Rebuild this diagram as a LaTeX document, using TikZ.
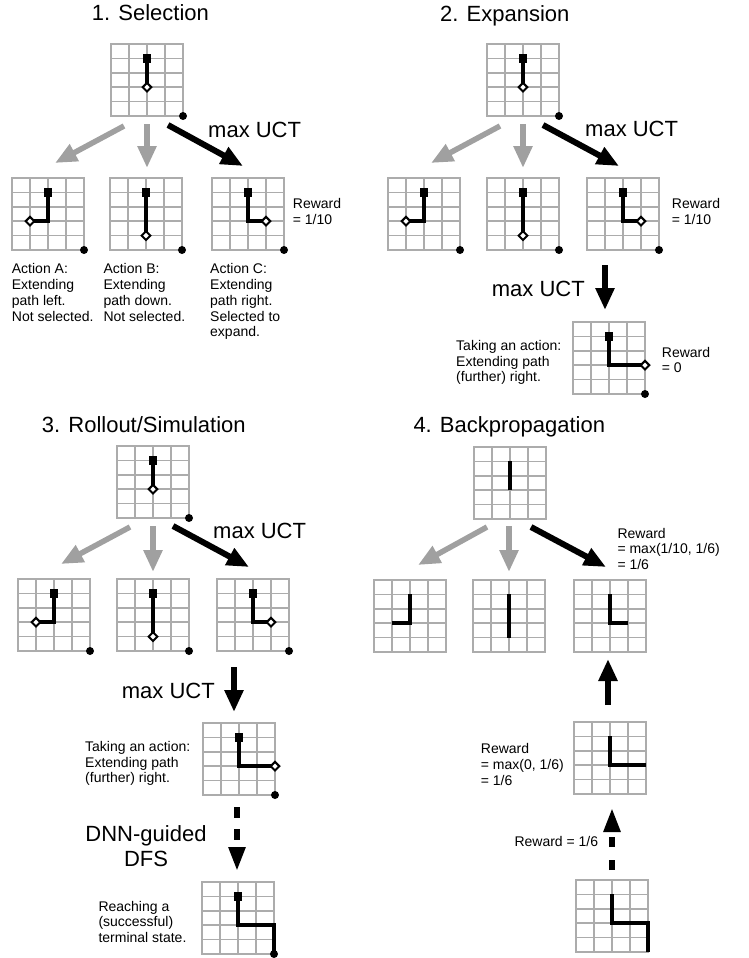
\documentclass[tikz,border=0pt]{standalone}
\usepackage{fontspec}
\setmainfont{Liberation Sans}
\usetikzlibrary{arrows.meta,shapes.geometric}
\definecolor{gridgray}{RGB}{172,172,172}
\definecolor{arrowgray}{RGB}{160,160,160}
\newcommand\smallf{\fontsize{14}{15.8}\selectfont}
\newcommand\bigf{\fontsize{22}{24.3}\selectfont}
\tikzset{
  gridline/.style={draw=gridgray, line width=1.5pt},
  gridbox/.style={draw=gridgray, line width=1.5pt, rectangle, minimum width=72pt, minimum height=72pt, inner sep=0pt},
  pathline/.style={line width=4pt, line join=miter, line cap=butt},
  startsq/.style={rectangle, fill=black, minimum size=8.5pt, inner sep=0pt},
  goaldot/.style={circle, fill=black, minimum size=8pt, inner sep=0pt},
  diam/.style={diamond, draw=black, fill=white, line width=2pt, minimum width=9.5pt, minimum height=9.5pt, inner sep=0pt},
  graya/.style={draw=arrowgray, line width=5.5pt, -{Triangle[length=22pt,width=18pt]}},
  blacka/.style={draw=black, line width=6pt, -{Triangle[length=22pt,width=18pt]}},
  dasha/.style={draw=black, line width=5.5pt, dash pattern=on 11pt off 11pt, -{Triangle[length=24pt,width=16pt]}},
  lbl/.style={anchor=north west, inner sep=0pt, align=left, font=\smallf},
  biglbl/.style={anchor=north west, inner sep=0pt, align=left, font=\bigf},
}
% grid: name, x, y (top-left corner)
\newcommand\mcgrid[3]{%
  \begin{scope}[shift={(#2,#3)}, x=18pt, y=-14.4pt]
    \foreach \c in {1,2,3} \draw[gridline] (\c,0) -- (\c,5);
    \foreach \r in {1,...,4} \draw[gridline] (0,\r) -- (4,\r);
    \node[gridbox] (#1) at (2,2.5) {};
  \end{scope}}
% path: x, y, path
\newcommand\mcpath[3]{%
  \begin{scope}[shift={(#1,#2)}, x=18pt, y=-14.4pt]
    \draw[pathline] #3;
  \end{scope}}
% start square and goal dot: name, x, y
\newcommand\mcends[3]{%
  \begin{scope}[shift={(#2,#3)}, x=18pt, y=-14.4pt]
    \node[startsq] (#1s) at (2,1) {};
    \node[goaldot] (#1g) at (4,5) {};
  \end{scope}}
% diamond: name, x, y, position
\newcommand\mcdiam[4]{%
  \begin{scope}[shift={(#2,#3)}, x=18pt, y=-14.4pt]
    \node[diam] (#1d) at (#4) {};
  \end{scope}}
\begin{document}
\begin{tikzpicture}[x=1pt, y=-1pt]
\useasboundingbox (0,0) rectangle (749,958);

% ---------- Panel 1: Selection ----------
\node[biglbl] (t1) at (91.7,4) {1. Selection};
\mcgrid{g1r}{111}{44}
\mcpath{111}{44}{(2,1) -- (2,3)}
\mcends{g1r}{111}{44}\mcdiam{g1r}{111}{44}{2,3}
\mcgrid{g1a}{12}{178}
\mcpath{12}{178}{(2,1) -- (2,3) -- (1,3)}
\mcends{g1a}{12}{178}\mcdiam{g1a}{12}{178}{1,3}
\mcgrid{g1b}{110}{178}
\mcpath{110}{178}{(2,1) -- (2,4)}
\mcends{g1b}{110}{178}\mcdiam{g1b}{110}{178}{2,4}
\mcgrid{g1c}{212}{178}
\mcpath{212}{178}{(2,1) -- (2,3) -- (3,3)}
\mcends{g1c}{212}{178}\mcdiam{g1c}{212}{178}{3,3}
\coordinate (a1ls) at (124,126); \coordinate (a1le) at (55,163);
\coordinate (a1ms) at (147,124); \coordinate (a1me) at (147,168);
\coordinate (a1rs) at (168,125); \coordinate (a1re) at (243,166);
\draw[graya] (a1ls) -- (a1le);
\draw[graya] (a1ms) -- (a1me);
\draw[blacka] (a1rs) -- (a1re);
\node[biglbl] (m1) at (208,121.7) {max UCT};
\node[lbl] (r1) at (292.7,198.3) {Reward\\= 1/10};
\node[lbl] (actA) at (11.7,263.3) {Action A:\\Extending\\path left.\\Not selected.};
\node[lbl] (actB) at (103.3,263.3) {Action B:\\Extending\\path down.\\Not selected.};
\node[lbl] (actC) at (210,263.3) {Action C:\\Extending\\path right.\\Selected to\\expand.};

% ---------- Panel 2: Expansion ----------
\node[biglbl] (t2) at (440,5) {2. Expansion};
\mcgrid{g2r}{487}{44}
\mcpath{487}{44}{(2,1) -- (2,3)}
\mcends{g2r}{487}{44}\mcdiam{g2r}{487}{44}{2,3}
\mcgrid{g2a}{388}{178}
\mcpath{388}{178}{(2,1) -- (2,3) -- (1,3)}
\mcends{g2a}{388}{178}\mcdiam{g2a}{388}{178}{1,3}
\mcgrid{g2b}{487}{178}
\mcpath{487}{178}{(2,1) -- (2,4)}
\mcends{g2b}{487}{178}\mcdiam{g2b}{487}{178}{2,4}
\mcgrid{g2c}{587}{178}
\mcpath{587}{178}{(2,1) -- (2,3) -- (3,3)}
\mcends{g2c}{587}{178}\mcdiam{g2c}{587}{178}{3,3}
\mcgrid{g2e}{573}{322}
\mcpath{573}{322}{(2,1) -- (2,3) -- (4,3)}
\mcends{g2e}{573}{322}\mcdiam{g2e}{573}{322}{4,3}
\coordinate (a2ls) at (500,126); \coordinate (a2le) at (431,163);
\coordinate (a2ms) at (523,124); \coordinate (a2me) at (523,168);
\coordinate (a2rs) at (543,125); \coordinate (a2re) at (619,166);
\coordinate (a2ds) at (605,265); \coordinate (a2de) at (605,310);
\draw[graya] (a2ls) -- (a2le);
\draw[graya] (a2ms) -- (a2me);
\draw[blacka] (a2rs) -- (a2re);
\draw[blacka] (a2ds) -- (a2de);
\node[biglbl] (m2) at (585,120.7) {max UCT};
\node[biglbl] (m2d) at (491.7,281) {max UCT};
\node[lbl] (r2) at (671.7,198.3) {Reward\\= 1/10};
\node[lbl] (take2) at (456,340) {Taking an action:\\Extending path\\(further) right.};
\node[lbl] (r2e) at (661.7,346.7) {Reward\\= 0};

% ---------- Panel 3: Rollout/Simulation ----------
\node[biglbl] (t3) at (41.7,416.7) {3. Rollout/Simulation};
\mcgrid{g3r}{117}{446}
\mcpath{117}{446}{(2,1) -- (2,3)}
\mcends{g3r}{117}{446}\mcdiam{g3r}{117}{446}{2,3}
\mcgrid{g3a}{18}{579}
\mcpath{18}{579}{(2,1) -- (2,3) -- (1,3)}
\mcends{g3a}{18}{579}\mcdiam{g3a}{18}{579}{1,3}
\mcgrid{g3b}{117}{579}
\mcpath{117}{579}{(2,1) -- (2,4)}
\mcends{g3b}{117}{579}\mcdiam{g3b}{117}{579}{2,4}
\mcgrid{g3c}{217}{579}
\mcpath{217}{579}{(2,1) -- (2,3) -- (3,3)}
\mcends{g3c}{217}{579}\mcdiam{g3c}{217}{579}{3,3}
\mcgrid{g3e}{203}{723}
\mcpath{203}{723}{(2,1) -- (2,3) -- (4,3)}
\mcends{g3e}{203}{723}\mcdiam{g3e}{203}{723}{4,3}
\mcgrid{g3t}{202}{882}
\mcpath{202}{882}{(2,1) -- (2,3) -- (4,3) -- (4,5)}
\mcends{g3t}{202}{882}
\coordinate (a3ls) at (130,527); \coordinate (a3le) at (61,564);
\coordinate (a3ms) at (153,526); \coordinate (a3me) at (153,572);
\coordinate (a3rs) at (173,526); \coordinate (a3re) at (249,567);
\coordinate (a3ds) at (234,667); \coordinate (a3de) at (234,712);
\coordinate (a3ts) at (237,807); \coordinate (a3te) at (237,871);
\draw[graya] (a3ls) -- (a3le);
\draw[graya] (a3ms) -- (a3me);
\draw[blacka] (a3rs) -- (a3re);
\draw[blacka] (a3ds) -- (a3de);
\draw[dasha] (a3ts) -- (a3te);
\node[biglbl] (m3) at (213,523.3) {max UCT};
\node[biglbl] (m3d) at (121.7,682.7) {max UCT};
\node[lbl] (take3) at (85,741) {Taking an action:\\Extending path\\(further) right.};
\node[anchor=north, inner sep=0pt, align=center, font=\bigf] (dnn) at (146,825.7) {DNN-guided\\DFS};
\node[lbl] (reach) at (98.3,900.7) {Reaching a\\(successful)\\terminal state.};

% ---------- Panel 4: Backpropagation ----------
\node[biglbl] (t4) at (413.3,416.7) {4. Backpropagation};
\mcgrid{g4r}{474}{447}
\mcpath{474}{447}{(2,1) -- (2,3)}
\mcgrid{g4a}{374}{580}
\mcpath{374}{580}{(2,1) -- (2,3) -- (1,3)}
\mcgrid{g4b}{473}{580}
\mcpath{473}{580}{(2,1) -- (2,4)}
\mcgrid{g4c}{574}{580}
\mcpath{574}{580}{(2,1) -- (2,3) -- (3,3)}
\mcgrid{g4e}{574}{722}
\mcpath{574}{722}{(2,1) -- (2,3) -- (4,3)}
\mcgrid{g4t}{576}{880}
\mcpath{576}{880}{(2,1) -- (2,3) -- (4,3) -- (4,5)}
\coordinate (a4ls) at (487,527); \coordinate (a4le) at (418,565);
\coordinate (a4ms) at (509,526); \coordinate (a4me) at (509,572);
\coordinate (a4rs) at (531,527); \coordinate (a4re) at (606,567);
\coordinate (a4us) at (608,705); \coordinate (a4ue) at (608,659);
\coordinate (a4ts) at (612,870); \coordinate (a4te) at (612,808);
\draw[graya] (a4ls) -- (a4le);
\draw[graya] (a4ms) -- (a4me);
\draw[blacka] (a4rs) -- (a4re);
\draw[blacka] (a4us) -- (a4ue);
\draw[dasha, dash pattern=on 10.5pt off 12.5pt] (a4ts) -- (a4te);
\node[lbl] (r4) at (617.3,527.7) {Reward\\= max(1/10, 1/6)\\= 1/6};
\node[lbl] (r4e) at (480.7,743.3) {Reward\\= max(0, 1/6)\\= 1/6};
\node[lbl] (r4t) at (514.3,836) {Reward = 1/6};
\end{tikzpicture}
\end{document}
